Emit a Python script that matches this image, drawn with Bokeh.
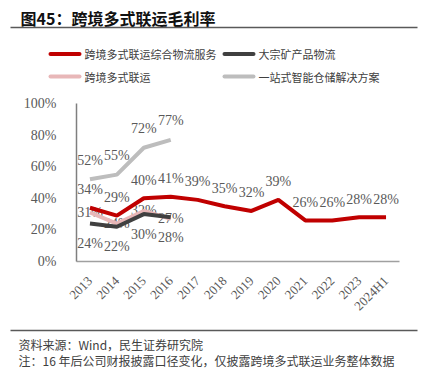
from bokeh.plotting import figure
from bokeh.models import Range1d, FixedTicker, PrintfTickFormatter
from bokeh.core.properties import value
from bokeh.embed import file_html
from bokeh.resources import INLINE
import math

years = ["2013", "2014", "2015", "2016", "2017", "2018", "2019", "2020", "2021", "2022", "2023", "2024H1"]
zonghe = [34, 29, 40, 41, 39, 35, 32, 39, 26, 26, 28, 28]      # 跨境多式联运综合物流服务
early_years = ["2013", "2014", "2015", "2016"]
dazong = [24, 22, 30, 28]                                         # 大宗矿产品物流
lianyun = [31, 24, 32, 27]                                        # 跨境多式联运
yizhan = [52, 55, 72, 77]                                         # 一站式智能仓储解决方案
y_ticks = [0, 20, 40, 60, 80, 100]

names = ["跨境多式联运综合物流服务", "大宗矿产品物流", "跨境多式联运", "一站式智能仓储解决方案"]
colors = ["#C00000", "#404040", "#E8B7B8", "#BDBDBD"]
title_text = "图45：跨境多式联运毛利率"
source_text = "资料来源：Wind，民生证券研究院"
note_text = "注：16 年后公司财报披露口径变化，仅披露跨境多式联运业务整体数据"

SERIF = "Liberation Serif"
CJK = "Noto Sans CJK SC"
LBL = "#595959"

W, H = 424, 380
F_L, F_R, F_T, F_B = 76, 399, 103, 261   # plot area on the page
PX = (F_R - F_L) / len(years)            # pixels per category
PY = (F_B - F_T) / 100.0                 # pixels per percent


def X(px):  # page px -> data x
    return -0.5 + (px - F_L) / PX


def Y(py):  # page px -> data y
    return (F_B - py) / PY


idx = {y: i for i, y in enumerate(years)}
x_all = [idx[y] for y in years]
x_early = [idx[y] for y in early_years]

p = figure(width=W, height=H, x_range=Range1d(X(0), X(W)), y_range=Range1d(Y(H), Y(0)),
           output_backend="svg", toolbar_location=None,
           min_border=0, min_border_left=0, min_border_right=0, min_border_top=0, min_border_bottom=0)
p.outline_line_color = None
p.grid.grid_line_color = None
p.background_fill_color = "white"
p.border_fill_color = "white"

# axes (library axes, pinned to the plot area)
p.yaxis.fixed_location = -0.5
p.yaxis.bounds = (0, 100)
p.yaxis.ticker = FixedTicker(ticks=y_ticks)
p.yaxis.formatter = PrintfTickFormatter(format="%d%%")
p.yaxis.major_tick_line_color = None
p.yaxis.minor_tick_line_color = None
p.yaxis.axis_line_color = "#7F7F7F"
p.yaxis.axis_line_width = 1.5
p.yaxis.major_label_text_font = SERIF
p.yaxis.major_label_text_font_size = "14px"
p.yaxis.major_label_text_color = LBL
p.yaxis.major_label_standoff = 14

p.xaxis.fixed_location = 0
p.xaxis.bounds = (-0.5, len(years) - 0.5)
p.xaxis.ticker = FixedTicker(ticks=x_all)
p.xaxis.major_label_overrides = {i: y for i, y in enumerate(years)}
p.xaxis.major_tick_line_color = None
p.xaxis.minor_tick_line_color = None
p.xaxis.axis_line_color = "#A0A0A0"
p.xaxis.axis_line_width = 1.5
p.xaxis.major_label_orientation = math.pi / 4
p.xaxis.major_label_text_font = SERIF
p.xaxis.major_label_text_font_size = "13px"
p.xaxis.major_label_text_color = LBL
p.xaxis.major_label_standoff = 11


def labels(xs, ys, offset):
    p.text(x=xs, y=ys, text=[f"{v}%" for v in ys], y_offset=offset,
           text_font=value(SERIF), text_font_size="14px", text_color=LBL,
           text_align="center", text_baseline="middle")


labels(x_early, lianyun, 0)  # pink labels sit under the lines

p.line(x_early, lianyun, line_color=colors[2], line_width=4)
p.line(x_early, dazong, line_color=colors[1], line_width=4)
p.line(x_all, zonghe, line_color=colors[0], line_width=4)
p.line(x_early, yizhan, line_color=colors[3], line_width=4)

labels(x_all, zonghe, -18)
labels(x_early, yizhan, -19)
labels(x_early, dazong, 20)

# header: title, rule, legend
p.text(x=[X(20)], y=[Y(17)], text=[title_text], text_font=value(CJK), text_font_size="16px",
       text_font_style="bold", text_color="#111111", text_align="left", text_baseline="middle")
p.segment(x0=[X(10)], y0=[Y(27)], x1=[X(417)], y1=[Y(27)], line_color="#595959", line_width=1.5)
leg_x = [48, 222, 48, 222]
leg_y = [53.5, 53.5, 76, 76]
for lx, ly, name, c in zip(leg_x, leg_y, names, colors):
    p.segment(x0=[X(lx + 2)], y0=[Y(ly)], x1=[X(lx + 31)], y1=[Y(ly)], line_color=c,
              line_width=4, line_cap="round")
    p.text(x=[X(lx + 36)], y=[Y(ly)], text=[name], text_font=value(CJK), text_font_size="11px",
           text_color="#404040", text_align="left", text_baseline="middle")

# footer
p.segment(x0=[X(10)], y0=[Y(330)], x1=[X(417)], y1=[Y(330)], line_color="#595959", line_width=1.5)
p.text(x=[X(18)], y=[Y(344)], text=[source_text], text_font=value(CJK), text_font_size="12px",
       text_color="#404040", text_align="left", text_baseline="middle")
p.text(x=[X(18)], y=[Y(360)], text=[note_text], text_font=value(CJK), text_font_size="12px",
       text_color="#404040", text_align="left", text_baseline="middle")

open("out.html", "w").write(file_html(p, INLINE))
